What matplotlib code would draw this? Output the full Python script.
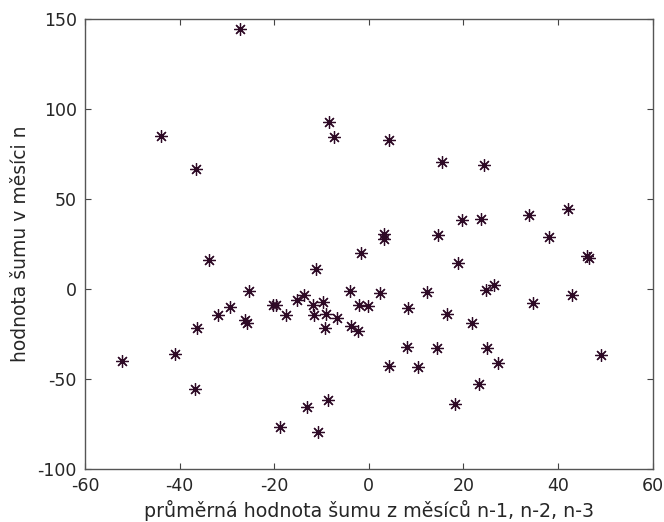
import matplotlib
matplotlib.use("Agg")
import matplotlib.pyplot as plt

plt.rcParams['axes.unicode_minus'] = False

# mean noise of months n-1, n-2, n-3 (x) vs noise in month n (y)
prumer = [
    -27.2, -44.0, -36.6, -8.4, -7.4, 4.3, 15.4, 24.4, 19.6, 23.8,
    33.8, 42.1, 38.1, 3.3, 3.3, 14.6, 46.2, 46.5, 18.9, -33.7,
    -1.7, -11.2, -25.4, -3.9, 2.3, 12.2, 26.4, 24.7, 43.0, 34.6,
    -13.7, -15.1, -20.3, -19.6, -29.4, -31.9, -26.1, -25.8, -36.3, -17.5,
    -11.8, -9.7, -11.5, -9.0, -6.8, -9.2, -3.7, -2.2, -2.0, -0.1,
    8.2, 16.5, 21.7, 8.0, 14.4, 24.9, 27.3, 4.2, 10.4, 49.1,
    23.3, 18.2, -8.7, -13.0, -18.8, -10.8, -41.0, -52.1, -36.7,
]
sum_n = [
    144.2, 85.1, 66.7, 92.6, 84.4, 82.9, 70.4, 69.0, 38.4, 38.8,
    41.0, 44.7, 29.0, 30.4, 27.6, 30.0, 18.2, 17.3, 14.4, 15.9,
    19.9, 10.9, -1.1, -1.1, -2.4, -1.9, 2.4, -0.6, -3.2, -7.6,
    -3.1, -5.9, -9.0, -8.8, -10.2, -14.4, -17.2, -18.9, -21.7, -14.4,
    -8.9, -7.4, -14.4, -13.9, -16.1, -21.9, -20.4, -23.1, -8.9, -9.6,
    -10.3, -13.9, -18.8, -32.3, -32.8, -32.8, -41.3, -42.9, -43.5, -36.7,
    -52.9, -63.9, -61.7, -65.4, -76.5, -79.6, -36.3, -40.0, -55.6,
]
x_ticks = [-60, -40, -20, 0, 20, 40, 60]
y_ticks = [-100, -50, 0, 50, 100, 150]

fig = plt.figure(figsize=(6.64, 5.22), dpi=100)
ax = fig.add_axes([0.128, 0.1015, 0.855, 0.862])

# octave style asterisk: + and x together
ax.plot(prumer, sum_n, linestyle='none', marker=(8, 2, 0), markersize=9,
        markeredgewidth=0.9, color='#2e0a26')

ax.set_xlim(-60, 60)
ax.set_ylim(-100, 150)
ax.set_xticks(x_ticks)
ax.set_yticks(y_ticks)
ax.tick_params(direction='in', top=True, right=True, length=4, width=0.8,
               color='#444444', labelsize=12.5, labelcolor='#262626')
ax.tick_params(axis='x', pad=6)
ax.tick_params(axis='y', pad=6)
for s in ax.spines.values():
    s.set_color('#555555')
    s.set_linewidth(1.0)

ax.set_xlabel('průměrná hodnota šumu z měsíců n-1, n-2, n-3', fontsize=13.7,
              color='#262626', labelpad=3)
ax.set_ylabel('hodnota šumu v měsíci n', fontsize=13.5, color='#262626', labelpad=5)

fig.savefig('out.png', dpi=100)
